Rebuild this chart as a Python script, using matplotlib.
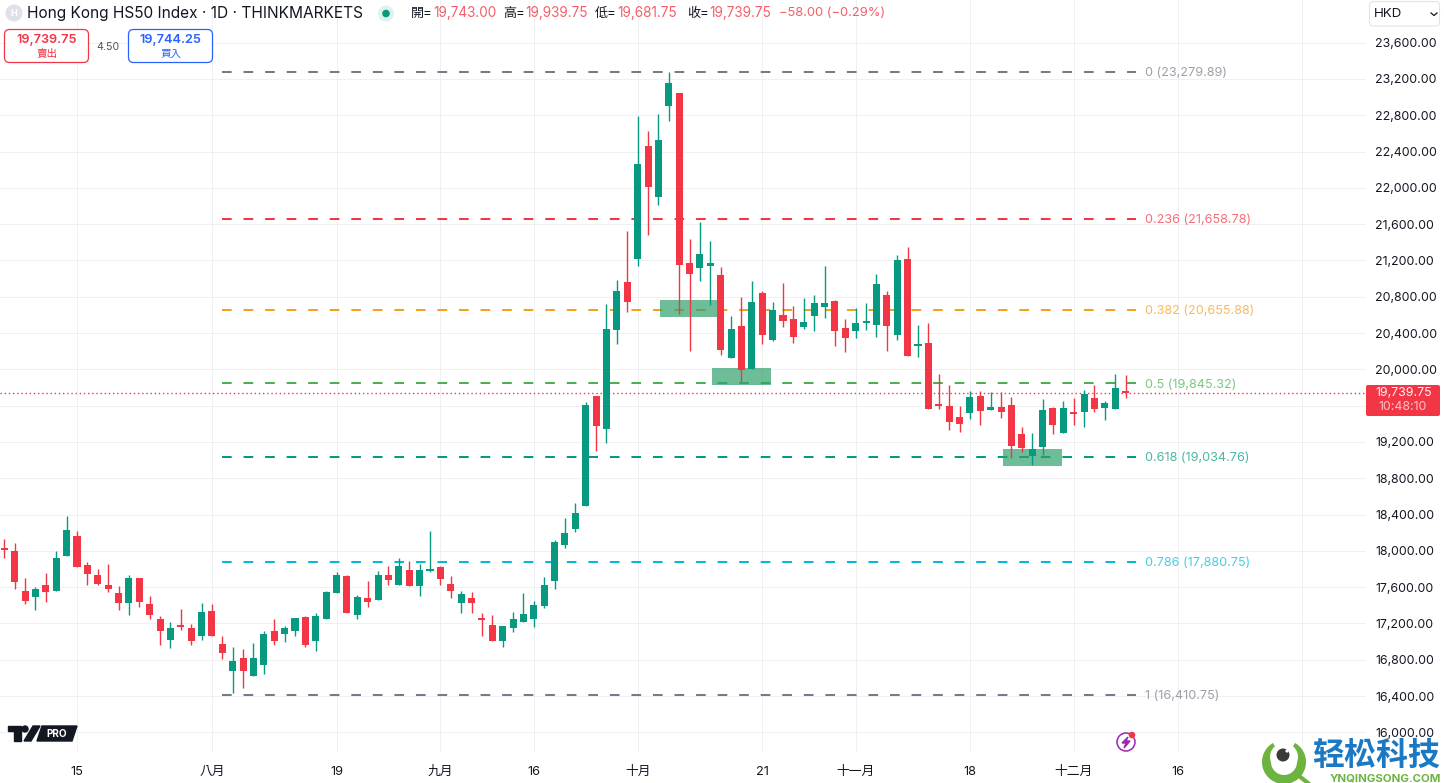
import matplotlib
matplotlib.use('Agg')
import matplotlib.pyplot as plt
from matplotlib.patches import FancyBboxPatch, Rectangle, Circle, Polygon, Wedge

plt.rcParams['font.family'] = ['Inter', 'Noto Sans CJK TC', 'DejaVu Sans']

opens = [18028,17998,17557,17491,17623,17557,17943,18163,17844,17733,
         17623,17535,17425,17700,17414,17249,17017,17171,17149,17061,
         17337,16973,16676,16819,16620,16742,17116,17083,17116,17271,
         17006,17249,17535,17722,17293,17480,17458,17733,17623,17789,
         17612,17777,17822,17634,17425,17480,17260,17182,17006,17149,
         17215,17249,17392,17667,18064,18240,18494,19706,19342,20433,
         20962,21216,22461,21899,22902,23045,21172,21117,21139,21039,
         20125,20477,20004,20841,20323,20599,20555,20466,20588,20687,
         20753,20455,20422,20510,20488,20819,20378,21216,20257,20290,
         19607,19596,19475,19519,19706,19552,19585,19607,19287,19045,
         19144,19574,19298,19519,19530,19684,19574,19563,19743]
highs = [18130,18086,17700,17601,17755,17998,18384,18218,17877,17800,
         17855,17612,17733,17700,17502,17282,17215,17359,17193,17425,
         17414,17061,16940,16918,16984,17116,17249,17171,17260,17282,
         17315,17557,17766,17733,17513,17667,17777,17833,17921,17888,
         17855,18218,17833,17722,17557,17546,17315,17293,17171,17326,
         17535,17447,17711,18119,18362,18527,19640,19706,20720,20984,
         21524,22792,22626,22814,23276,23045,21436,21623,21414,21128,
         20588,20797,20973,20863,20742,20951,20698,20786,20819,21139,
         20764,20555,20676,20731,21050,20863,21260,21348,20488,20510,
         19948,19827,19596,19761,19761,19750,19750,19695,19364,19298,
         19673,19585,19651,19684,19772,19827,19651,19948,19939.75]
lows = [17921,17579,17414,17348,17436,17557,17943,17822,17623,17623,
        17546,17348,17293,17381,17249,16962,16929,17127,16962,17017,
        17061,16808,16433,16488,16620,16642,16962,16995,17061,16940,
        16896,17249,17535,17315,17249,17381,17458,17623,17623,17612,
        17502,17766,17623,17480,17315,17315,17061,17006,16940,17105,
        17215,17160,17370,17579,18031,18207,18494,19100,19188,20279,
        20632,21139,21480,21811,22737,20610,20202,20973,20709,20158,
        20125,19860,20004,20279,20312,20466,20290,20444,20422,20566,
        20257,20191,20345,20433,20356,20202,20323,20147,20136,19563,
        19563,19331,19309,19453,19386,19552,19464,19023,19089,18946,
        19056,19287,19298,19386,19364,19530,19442,19563,19681.75]
closes = [18009,17656,17447,17579,17546,17921,18229,17822,17744,17634,
          17579,17425,17700,17436,17293,17116,17149,17160,17006,17326,
          17061,16874,16786,16676,16819,17083,17006,17149,17260,16962,
          17282,17546,17733,17315,17491,17436,17733,17678,17833,17612,
          17789,17789,17689,17557,17524,17425,17238,17006,17171,17249,
          17304,17403,17623,18097,18196,18417,19607,19375,20444,20863,
          20742,22263,22009,22527,23155,21150,21050,21271,21172,20213,
          20444,19993,20742,20378,20654,20533,20356,20521,20731,20731,
          20422,20345,20510,20533,20940,20477,21205,20147,20268,19563,
          19596,19419,19397,19695,19541,19585,19530,19155,19133,19122,
          19552,19386,19574,19508,19728,19563,19629,19794,19739.75]

fib_ratios = ['0', '0.236', '0.382', '0.5', '0.618', '0.786', '1']
fib_prices = [23279.89, 21658.78, 20655.88, 19845.32, 19034.76, 17880.75, 16410.75]
fib_colors = ['#787b86', '#f23645', '#f5a020', '#4caf50', '#089981', '#00bcd4', '#787b86']
fib_start, fib_end = 21, 109

zone_left = [63.15, 68.2, 96.2]
zone_right = [68.66, 73.84, 101.86]
zone_top = [20764, 20015, 19122]
zone_bottom = [20577, 19827, 18935]

price_ticks = list(range(16000, 23601, 400))
date_pos = [7, 20, 32, 42, 51, 61, 73, 82, 93, 103, 113, 125]
date_labels = ['15', '八月', '19', '九月', '16', '十月', '21', '十一月', '18', '十二月', '16', '']
last_price = 19739.75

UP = '#089981'
DOWN = '#f23645'
TEXT = '#131722'

W, H = 1444, 783
fig = plt.figure(figsize=(W / 100, H / 100), dpi=100, facecolor='white')

# main chart panel, pixel edges 0..1366 and 0..752
ax = fig.add_axes([0, 1 - 752 / H, 1366 / W, 752 / H])
ax.set_xlim(-0.414, 131.15)
ax.set_ylim(15783, 24070)
for s in ax.spines.values():
    s.set_visible(False)
ax.grid(True, color='#eef0f4', linewidth=0.72, zorder=0)
ax.set_axisbelow(True)
ax.yaxis.tick_right()
ax.set_yticks(price_ticks)
# the last price tag sits where 19,600 would be
ax.set_yticklabels(['' if p == 19600 else '{:,.2f}'.format(p) for p in price_ticks],
                   fontsize=8.9, color=TEXT)
ax.set_xticks(date_pos)
ax.set_xticklabels(date_labels, fontsize=9.2, color=TEXT)
ax.tick_params(axis='both', length=0)
ax.tick_params(axis='y', pad=6.5)
ax.tick_params(axis='x', pad=10)

for price, col in zip(fib_prices, fib_colors):
    ax.plot([fib_start, fib_end], [price, price], color=col, linewidth=1.45,
            dashes=(4.8, 5.9), dash_capstyle='butt', zorder=1.5)

for a, b, t, bt in zip(zone_left, zone_right, zone_top, zone_bottom):
    ax.add_patch(Rectangle((a, bt), b - a, t - bt, facecolor='#2fa16c', alpha=0.7,
                           edgecolor='none', zorder=1.8))

for ratio, price, col in zip(fib_ratios, fib_prices, fib_colors):
    ax.annotate('{} ({:,.2f})'.format(ratio, price), (109.85, price), xytext=(0, -1),
                textcoords='offset points', color=col, alpha=0.72,
                fontsize=9.1, va='center', ha='left', zorder=5)

ax.axhline(last_price, color=DOWN, linewidth=1.0, dashes=(1, 2), dash_capstyle='butt', zorder=2)

for i in range(len(opens)):
    col = UP if closes[i] >= opens[i] else DOWN
    ax.vlines(i, lows[i], highs[i], color=col, linewidth=1.0, zorder=3)
    lo = min(opens[i], closes[i])
    hi = max(opens[i], closes[i])
    ax.bar(i, max(hi - lo, 25), bottom=lo, width=0.68, color=col, linewidth=0, zorder=3.2)

# overlay in pixels for the header, buttons and badges
ov = fig.add_axes([0, 0, 1, 1], facecolor='none')
ov.set_xlim(0, W)
ov.set_ylim(H, 0)
ov.axis('off')

ov.add_patch(Circle((14, 13), 8.5, facecolor='#dfe1ea', edgecolor='none'))
ov.text(14, 13.5, 'H', color='white', fontsize=6.5, fontweight='bold', ha='center', va='center')
ov.text(27, 13.5, 'Hong Kong HS50 Index · 1D · THINKMARKETS', color=TEXT, fontsize=11.1, va='center')
ov.add_patch(Circle((386, 13.5), 8, facecolor='#dff3ee', edgecolor='none'))
ov.add_patch(Circle((386, 13.5), 3.8, facecolor=UP, edgecolor='none'))

head_x = [411, 503, 595, 687]
head_lab = ['開=', '高=', '低=', '收=']
head_val = ['19,743.00', '19,939.75', '19,681.75', '19,739.75']
head_vx = [433, 525, 617, 709]
for x, lab, vx, val in zip(head_x, head_lab, head_vx, head_val):
    ov.text(x, 13.5, lab, color=TEXT, fontsize=9.4, va='center')
    ov.text(vx, 13.5, val, color=DOWN, alpha=0.8, fontsize=9.8, va='center')
ov.text(779, 13.5, '−58.00 (−0.29%)', color=DOWN, alpha=0.8, fontsize=9.3, va='center')

for x0, col, val, lab in [(4.5, DOWN, '19,739.75', '賣出'), (128.5, '#2962ff', '19,744.25', '買入')]:
    ov.add_patch(FancyBboxPatch((x0, 29.5), 84, 33, boxstyle='round,pad=0,rounding_size=5',
                                linewidth=0.9, edgecolor=col, facecolor='white', zorder=2))
    ov.text(x0 + 42, 40, val, color=col, fontsize=9.2, fontweight='semibold', ha='center', va='center', zorder=3)
    ov.text(x0 + 42, 54, lab, color=col, fontsize=7.6, ha='center', va='center', zorder=3)
ov.text(108, 46.5, '4.50', color='#50535e', fontsize=7.6, ha='center', va='center')

ov.add_patch(FancyBboxPatch((1369.5, 1.5), 70, 24.5, boxstyle='round,pad=0,rounding_size=4',
                            linewidth=0.8, edgecolor='#e0e3eb', facecolor='white'))
ov.text(1374, 14, 'HKD', color=TEXT, fontsize=9.6, va='center')
ov.plot([1431, 1434, 1437], [13, 15.5, 13], color=TEXT, linewidth=0.9)

ov.add_patch(FancyBboxPatch((1366, 385), 74, 31, boxstyle='round,pad=0,rounding_size=2',
                            linewidth=0, facecolor=DOWN))
ov.text(1404, 392.5, '19,739.75', color='white', fontsize=8.9, ha='center', va='center', alpha=0.95)
ov.text(1403, 407, '10:48:10', color='white', fontsize=8.9, ha='center', va='center', alpha=0.7)

# TV PRO badge
ov.add_patch(Polygon([(8, 726), (21, 726), (21, 741), (14, 741), (14, 730.5), (8, 730.5)], color='#131722'))
ov.add_patch(Circle((25, 729), 3, color='#131722'))
ov.add_patch(Polygon([(33, 726), (40, 726), (31, 741), (24, 741)], color='#131722'))
ov.add_patch(Polygon([(42, 726), (77, 726), (72, 741), (37, 741)], color='#131722'))
ov.text(56.5, 733.7, 'PRO', color='white', fontsize=7.2, fontweight='bold', ha='center', va='center')

# lightning badge
ov.add_patch(Circle((1126, 742), 9, facecolor='white', edgecolor='#9c27b0', linewidth=1.1))
ov.add_patch(Polygon([(1128, 737), (1122, 743), (1126, 743), (1124, 748), (1130, 741), (1126, 741)], color='#9c27b0'))
ov.add_patch(Circle((1132, 735), 2.6, color='#f23645'))

# watermark
ov.add_patch(Wedge((1284, 762), 22, 300, 240, width=9, facecolor='#6cb33f', edgecolor='none', zorder=6))
ov.add_patch(Circle((1284, 757), 14, facecolor='white', edgecolor='none', zorder=6))
ov.add_patch(Circle((1283, 755), 6.5, facecolor='#3a3a3a', edgecolor='none', zorder=7))
ov.add_patch(Circle((1287, 751), 1.6, facecolor='white', edgecolor='none', zorder=7))
ov.plot([1299, 1308], [776, 783], color='#6cb33f', linewidth=3, zorder=6)
ov.text(1376, 756.5, '轻松科技', color='#1b78c2', fontsize=23, fontweight='bold',
        ha='center', va='center', zorder=7)
ov.text(1385, 778, 'YNQINGSONG.COM', color='#6cb33f', fontsize=8.2, fontweight='bold',
        ha='center', va='center', zorder=7)

fig.savefig('out.png', dpi=100)
